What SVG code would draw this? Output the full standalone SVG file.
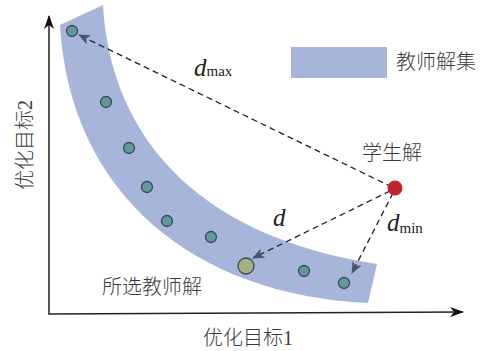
<svg xmlns="http://www.w3.org/2000/svg" width="485" height="351" viewBox="0 0 485 351">
<defs>
<style>
.cjk{font-family:"Liberation Serif","Noto Sans CJK SC",serif;font-size:20px;fill:#3a3a3a;font-weight:300}
.math{font-family:"Liberation Serif",serif;fill:#222}
.dash{fill:none;stroke:#222;stroke-width:1.3;stroke-dasharray:6 4}
.axis{fill:none;stroke:#222;stroke-width:1.5}
.dot{fill:#5f9a9a;stroke:#3b4652;stroke-width:1.3}
</style>
<marker id="ah" viewBox="0 0 12 10" refX="11" refY="5" markerWidth="12" markerHeight="10" markerUnits="userSpaceOnUse" orient="auto">
<path d="M0,0 L12,5 L0,10 L3,5 Z" fill="#4b5468"/>
</marker>
<marker id="axh" viewBox="0 0 14 10" refX="13" refY="5" markerWidth="14" markerHeight="10" markerUnits="userSpaceOnUse" orient="auto">
<path d="M0,0 L14,5 L0,10 L4,5 Z" fill="#111"/>
</marker>
</defs>
<g id="band">
<path d="M60,25 L103,5 C110,130 190,235 377,264 L368,303 C195,295 70,195 60,25 Z" fill="#a7b5da"/>
</g>
<g id="axes">
<path class="axis" d="M49,314 L49,16" marker-end="url(#axh)"/>
<path class="axis" d="M48.3,314 L463,312" marker-end="url(#axh)"/>
</g>
<g id="legend">
<rect x="291" y="47" width="96" height="31" fill="#a7b5da"/>
<text class="cjk" x="396" y="69">教师解集</text>
</g>
<g id="connectors">
<line class="dash" x1="392" y1="187" x2="79" y2="35" marker-end="url(#ah)"/>
<line class="dash" x1="390" y1="191" x2="253" y2="258" marker-end="url(#ah)"/>
<line class="dash" x1="393" y1="193" x2="352" y2="273" marker-end="url(#ah)"/>
</g>
<g id="teacher-dots">
<circle class="dot" cx="72" cy="31" r="5.5"/>
<circle class="dot" cx="106" cy="102" r="5.5"/>
<circle class="dot" cx="129" cy="148" r="5.5"/>
<circle class="dot" cx="147" cy="187" r="5.5"/>
<circle class="dot" cx="167" cy="221" r="5.5"/>
<circle class="dot" cx="211" cy="237" r="5.5"/>
<circle class="dot" cx="304" cy="271" r="5.5"/>
<circle class="dot" cx="344" cy="283" r="5.5"/>
</g>
<g id="selected">
<circle cx="246" cy="266" r="8" fill="#a5b185" stroke="#3b4652" stroke-width="1.3"/>
<text class="cjk" x="102" y="294">所选教师解</text>
</g>
<g id="student">
<circle cx="395" cy="188" r="7.5" fill="#c0232e"/>
<text class="cjk" x="362" y="160">学生解</text>
</g>
<g id="labels">
<text class="math" x="194" y="76"><tspan font-style="italic" font-size="25">d</tspan><tspan font-size="15">max</tspan></text>
<text class="math" x="273" y="226" font-style="italic" font-size="25">d</text>
<text class="math" x="387" y="231"><tspan font-style="italic" font-size="25">d</tspan><tspan font-size="15" dy="2">min</tspan></text>
<text class="cjk" x="203" y="345">优化目标1</text>
<text class="cjk" transform="translate(32,145) rotate(-90)" text-anchor="middle">优化目标2</text>
</g>
</svg>
